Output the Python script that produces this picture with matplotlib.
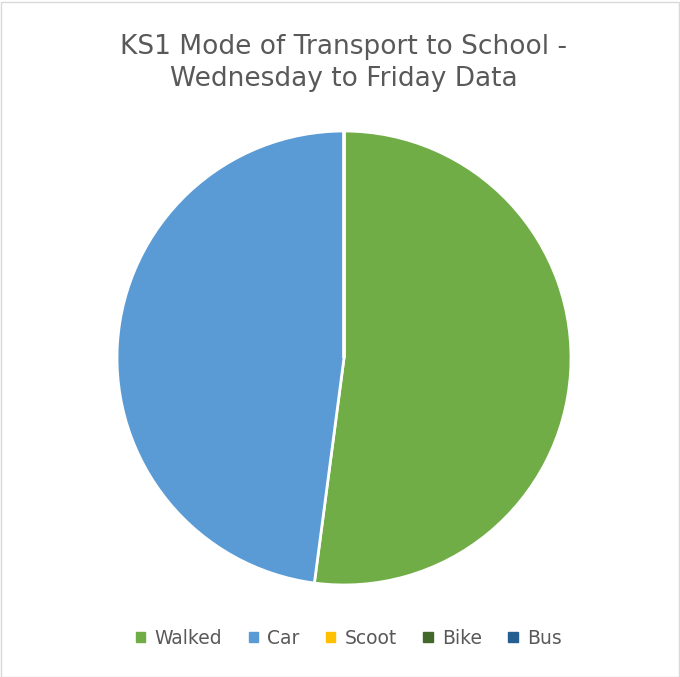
import matplotlib
matplotlib.use("Agg")
import matplotlib.pyplot as plt
from matplotlib.patches import Rectangle

# Donnees
labels = ["Walked", "Car", "Scoot", "Bike", "Bus"]
values = [25, 23, 0, 0, 0]
colors = ["#70AD47", "#5B9BD5", "#FFC000", "#43682B", "#255E91"]

TEXT_GREY = "#595959"

plt.rcParams["font.family"] = ["DejaVu Sans"]

W, H = 680, 677
fig = plt.figure(figsize=(W / 100, H / 100), dpi=100)

# cadre gris du graphique
fig.patches.append(Rectangle((0.5 / W, 0.5 / H), 1 - 2 / W, 1 - 2 / H,
                             transform=fig.transFigure, fill=False,
                             edgecolor="#D9D9D9", linewidth=1))

cx, cy, r = 344, 358, 227
ax = fig.add_axes([(cx - r) / W, (H - cy - r) / H, 2 * r / W, 2 * r / H])
wedges, _ = ax.pie(values, colors=colors, startangle=90, counterclock=False,
                   radius=1, wedgeprops=dict(edgecolor="white", linewidth=2))
ax.set_xlim(-1, 1)
ax.set_ylim(-1, 1)
ax.set_aspect("equal")
ax.axis("off")

fig.text(cx / W, 1 - 63 / H, "KS1 Mode of Transport to School -\nWednesday to Friday Data",
         ha="center", va="center", fontsize=19, color=TEXT_GREY, linespacing=1.3)

handles = [Rectangle((0, 0), 1, 1, color=c) for c in colors]
fig.legend(handles, labels, loc="center", bbox_to_anchor=(349 / W, 1 - 638 / H),
           ncol=5, frameon=False, fontsize=13.5, labelcolor=TEXT_GREY,
           handlelength=0.5, handleheight=0.5, handletextpad=0.5, columnspacing=1.4)

fig.savefig("out.png", dpi=100)
